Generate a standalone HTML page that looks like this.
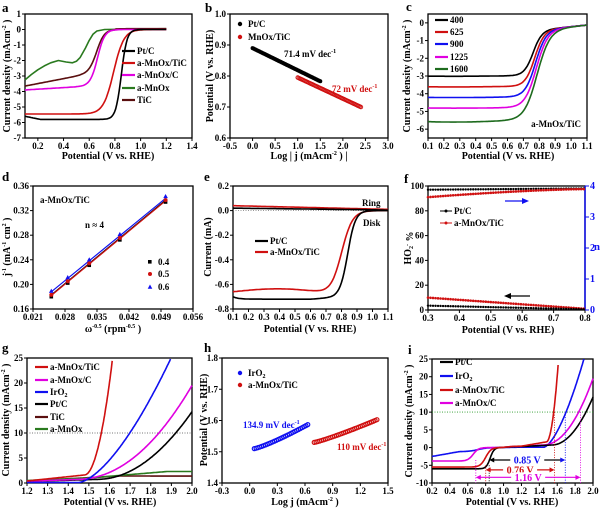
<!DOCTYPE html>
<html><head><meta charset="utf-8"><style>
body{margin:0;background:#fff}
svg{display:block}
text{font-family:"Liberation Serif",serif;font-weight:bold}
</style></head><body>
<svg id="s" width="600" height="510" viewBox="0 0 600 510" xmlns="http://www.w3.org/2000/svg"></svg>
<script>
let S='';
function P(box,xr,yr){return {b:box,X:v=>box[0]+(v-xr[0])/(xr[1]-xr[0])*(box[2]-box[0]),Y:v=>box[3]-(v-yr[0])/(yr[1]-yr[0])*(box[3]-box[1])};}
function T(x,y,t,o){o=o||{};S+=`<text x="${x}" y="${y}" font-size="${o.fs||9}" fill="${o.c||'#000'}" text-anchor="${o.a||'start'}"${o.tr?` transform="${o.tr}"`:''}>${t}</text>`;}
function axes(p,xt,yt,xf,yf,opt){opt=opt||{};const b=p.b;
 S+=`<rect x="${b[0]}" y="${b[1]}" width="${b[2]-b[0]}" height="${b[3]-b[1]}" fill="none" stroke="#000" stroke-width="1.3"/>`;
 xt.forEach(v=>{const x=p.X(v);S+=`<line x1="${x}" y1="${b[3]}" x2="${x}" y2="${b[3]+3}" stroke="#000"/>`;T(x,b[3]+11,xf(v),{a:'middle'});});
 yt.forEach(v=>{const y=p.Y(v);S+=`<line x1="${b[0]-3}" y1="${y}" x2="${b[0]}" y2="${y}" stroke="#000"/>`;T(b[0]-4,y+3,yf(v),{a:'end'});});
}
function line(pts,c,w,da){S+=`<polyline points="${pts.map(q=>q[0].toFixed(1)+','+q[1].toFixed(1)).join(' ')}" fill="none" stroke="${c}" stroke-width="${w||1.6}" stroke-linejoin="round"${da?` stroke-dasharray="${da}"`:''}/>`;}
function fn(p,f,a,b,n){n=n||120;const r=[];for(let i=0;i<=n;i++){const x=a+(b-a)*i/n;r.push([p.X(x),p.Y(f(x))]);}return r;}
function pl(p,arr){return arr.map(q=>[p.X(q[0]),p.Y(q[1])]);}
const L=(E,E0,w)=>1/(1+Math.exp((E-E0)/w));
function f1(v,d){return v.toFixed(d);}
function ylab(x,y,t){T(0,0,t,{a:'middle',fs:10,tr:`translate(${x},${y}) rotate(-90)`});}
const sup=t=>`<tspan dy="-4" font-size="6">${t}</tspan><tspan dy="4"> </tspan>`;
const sub=t=>`<tspan dy="2" font-size="6">${t}</tspan><tspan dy="-2"></tspan>`;
function leg(x,y,c,t){S+=`<line x1="${x}" y1="${y}" x2="${x+13}" y2="${y}" stroke="${c}" stroke-width="2.2"/>`;T(x+15,y+3,t);}
function rng(a,b,s){const r=[];for(let v=a;v<=b+1e-9;v+=s)r.push(+v.toFixed(4));return r;}

// ---- a
let p=P([25,14,192,138],[0.1,1.4],[-7,1]);
axes(p,rng(0.2,1.4,0.2),rng(-7,1,1),v=>f1(v,1),v=>f1(v,0));
line(pl(p,[[0.1,-3.25],[0.15,-2.9],[0.2,-2.6],[0.25,-2.35],[0.3,-2.15],[0.36,-2.0],[0.42,-2.1],[0.47,-2.15],[0.5,-2.05],[0.53,-1.8],[0.57,-1.2],[0.6,-0.7],[0.63,-0.3],[0.66,-0.1],[0.72,0],[1.2,0.05]]),'#2a7a1f');
line(fn(p,E=>(-3.65+1.6*(E-0.1))*L(E,0.66,0.03)+0.05*(E>0.8),0.1,1.2),'#5a0f0f');
line(fn(p,E=>(-3.9+0.5*(E-0.1))*L(E,0.665,0.028),0.1,1.2),'#e000e0');
line(fn(p,E=>-5.45*L(E,0.79,0.04),0.1,1.2),'#d01010');
line(fn(p,E=>(-5.6-0.2*Math.min(1,(E-0.1)/0.12))*L(E,0.85,0.022),0.1,1.2),'#000');
leg(122,51,'#000','Pt/C');leg(122,63,'#d01010','a-MnOx/TiC');leg(122,75,'#e000e0','a-MnOx/C');leg(122,88,'#2a7a1f','a-MnOx');leg(122,100,'#5a0f0f','TiC');
ylab(10,76,'Current density (mAcm'+sup('-2')+')');T(108,159,'Potential (V vs. RHE)',{a:'middle',fs:10});T(2,12,'a',{fs:13});

// ---- b
p=P([230,14,388,138],[-0.5,3.0],[0.6,1.0]);
axes(p,rng(-0.5,3.0,0.5),rng(0.6,1.0,0.1),v=>f1(v,1),v=>f1(v,1));
for(let x=0;x<=1.5;x+=0.025)S+=`<circle cx="${p.X(x)}" cy="${p.Y(0.89-0.0714*x)}" r="2" fill="#000"/>`;
for(let x=1.0;x<=2.4;x+=0.025)S+=`<circle cx="${p.X(x)}" cy="${p.Y(0.795-0.068*(x-1))}" r="1.8" fill="none" stroke="#d01010" stroke-width="0.9"/>`;
S+=`<circle cx="240" cy="24" r="2.2" fill="#000"/><circle cx="240" cy="37" r="2.2" fill="#d01010"/>`;
T(248,27,'Pt/C');T(248,40,'MnOx/TiC');
T(284,57,'71.4 mV dec'+sup('-1'));T(332,92,'72 mV dec'+sup('-1'),{c:'#d01010'});
ylab(213,76,'Potential (V vs. RHE)');T(309,159,'Log | j (mAcm'+sup('-2')+') |',{a:'middle',fs:10});T(205,12,'b',{fs:13});

// ---- c
p=P([428,14,587,138],[0.1,1.1],[-6.5,0.5]);
axes(p,rng(0.1,1.1,0.1),rng(-6,0,1),v=>f1(v,1),v=>f1(v,0));
const base=E=>-0.35+0.9*(E-0.85);
[[-3,0.76,0.028,'#000'],[-3.6,0.77,0.03,'#d01010'],[-4.2,0.775,0.033,'#1010f0'],[-4.8,0.78,0.036,'#e000e0'],[-5.55,0.785,0.04,'#1e6b1e']].forEach(([Lm,E0,w,c])=>{
 line(fn(p,E=>(Lm-base(E))*L(E,E0,w)+base(E)-0.05*Math.sin(E*6)*(Lm<-5?1:0.3)*L(E,E0,w),0.1,1.1),c);});
leg(435,20,'#000','400');leg(435,32,'#d01010','625');leg(435,44,'#1010f0','900');leg(435,57,'#e000e0','1225');leg(435,69,'#1e6b1e','1600');
T(581,127,'a-MnOx/TiC',{a:'end'});
ylab(410,76,'Current density (mAcm'+sup('-2')+')');T(508,159,'Potential (V vs. RHE)',{a:'middle',fs:10});T(406,11,'c',{fs:13});

// ---- d
p=P([33,186,193,309],[0.021,0.056],[0.16,0.36]);
axes(p,rng(0.021,0.056,0.007),rng(0.16,0.36,0.04),v=>f1(v,3),v=>f1(v,2));
const xs=[0.025,0.0286,0.0333,0.04,0.05];
line([[p.X(0.025),p.Y(0.183)],[p.X(0.05),p.Y(0.337)]],'#000',1.2);
line([[p.X(0.025),p.Y(0.182)],[p.X(0.05),p.Y(0.336)]],'#d01010',1.2);
line([[p.X(0.025),p.Y(0.188)],[p.X(0.05),p.Y(0.34)]],'#1010f0',1.2);
xs.forEach(x=>{const yb=0.183+(x-0.025)/0.025*0.154;
 S+=`<rect x="${p.X(x)-1.8}" y="${p.Y(yb-0.003)-1.8}" width="3.6" height="3.6" fill="#000"/>`;
 S+=`<circle cx="${p.X(x)}" cy="${p.Y(yb)}" r="2" fill="#d01010"/>`;
 const X=p.X(x),Y=p.Y(yb+0.006);S+=`<polygon points="${X},${Y-2.5} ${X-2.3},${Y+1.7} ${X+2.3},${Y+1.7}" fill="#1010f0"/>`;});
T(40,203,'a-MnOx/TiC');T(85,228,'n ≈ 4');
S+=`<rect x="148" y="260" width="3.6" height="3.6" fill="#000"/><circle cx="150" cy="274" r="2" fill="#d01010"/><polygon points="150,284.5 147.7,288.7 152.3,288.7" fill="#1010f0"/>`;
T(158,265,'0.4');T(158,277,'0.5');T(158,290,'0.6');
ylab(10,247,'j'+sup('-1')+'(mA'+sup('-1')+'cm'+sup('2')+')');T(113,332,'ω'+sup('-0.5')+'(rpm'+sup('-0.5')+')',{a:'middle',fs:10});T(2,181,'d',{fs:13});

// ---- e
p=P([233,186,388,309],[0.1,1.1],[-0.8,0.2]);
axes(p,rng(0.1,1.1,0.1),rng(-0.8,0.2,0.2),v=>f1(v,1),v=>f1(v,1));
line([[p.X(0.1),p.Y(0)],[p.X(1.1),p.Y(0)]],'#777',0.8,'1,1.5');
line(fn(p,E=>0.04-0.03*(E-0.1),0.1,1.1),'#d01010');
line(fn(p,E=>0.02-0.015*(E-0.1),0.1,1.1),'#000');
line(fn(p,E=>(-0.66+0.03*Math.sin((E-0.1)*5)-0.02*(E-0.1))*L(E,0.8,0.035),0.1,1.1),'#d01010');
line(fn(p,E=>(-0.72+0.02*Math.exp(-(E-0.1)*30)+0.03*Math.max(0,E-0.6)*3)*L(E,0.84,0.025),0.1,1.1),'#000');
leg(255,241,'#000','Pt/C');leg(255,252,'#d01010','a-MnOx/TiC');
T(362,206,'Ring');T(363,226,'Disk');
ylab(211,247,'Current (mA)');T(310,332,'Potential (V vs. RHE)',{a:'middle',fs:10});T(204,181,'e',{fs:13});

// ---- f
p=P([428,186,585,310],[0.3,0.8],[0,100]);
axes(p,rng(0.3,0.8,0.1),rng(0,100,20),v=>f1(v,1),v=>f1(v,0));
S+=`<line x1="585" y1="186" x2="585" y2="310" stroke="#1010f0" stroke-width="1.5"/>`;
[0,1,2,3,4].forEach(n=>{const y=p.Y(n*25);S+=`<line x1="585" y1="${y}" x2="589" y2="${y}" stroke="#1010f0"/>`;T(590,y+3,''+n,{c:'#1010f0',fs:10});});
for(let x=0.3;x<=0.8;x+=0.008){
 S+=`<circle cx="${p.X(x)}" cy="${p.Y(97+2*(x-0.3))}" r="1.2" fill="#000"/>`;
 S+=`<circle cx="${p.X(x)}" cy="${p.Y(91+6.5*(1-Math.pow(1-(x-0.3)/0.5,1.5)))}" r="1.3" fill="#d01010"/>`;
 S+=`<circle cx="${p.X(x)}" cy="${p.Y(10-9*(x-0.3)/0.5)}" r="1.3" fill="#d01010"/>`;
 S+=`<circle cx="${p.X(x)}" cy="${p.Y(3.5-3*(x-0.3)/0.5)}" r="1.2" fill="#000"/>`;}
S+=`<line x1="505" y1="201" x2="524" y2="201" stroke="#1010f0" stroke-width="1.2"/><polygon points="529,201 522,198 522,204" fill="#1010f0"/>`;
S+=`<line x1="510" y1="296" x2="530" y2="296" stroke="#000" stroke-width="1.2"/><polygon points="504,296 511,293 511,299" fill="#000"/>`;
S+=`<line x1="440" y1="211" x2="452" y2="211" stroke="#000"/><circle cx="446" cy="211" r="1.5"/><line x1="440" y1="223" x2="452" y2="223" stroke="#d01010"/><circle cx="446" cy="223" r="1.5" fill="#d01010"/>`;
T(454,214,'Pt/C');T(454,226,'a-MnOx/TiC');
ylab(411,248,'HO'+sub('2')+sup('-')+'%');T(600,250,'n',{c:'#1010f0',fs:11,a:'end'});
T(508,333,'Potential (V vs. RHE)',{a:'middle',fs:10});T(404,183,'f',{fs:13});

// ---- g
p=P([27,358,192,483],[1.2,2.0],[0,25]);
axes(p,rng(1.2,2.0,0.1),rng(0,25,5),v=>f1(v,1),v=>f1(v,0));
line([[p.X(1.2),p.Y(10)],[p.X(2.0),p.Y(10)]],'#777',0.9,'1,1.5');
const oer={
 tic:E=>0.4+1.0*Math.min(1,(E-1.2)/0.45)-0.1*Math.max(0,E-1.7),
 mn:E=>0.5+0.5*Math.min(1,(E-1.2)/0.3)+1.3*Math.min(1,Math.max(0,E-1.5)/0.38),
 pt:E=>0.3+0.5*(E-1.2)/0.4+64*Math.pow(Math.max(0,E-1.55),2),
 c:E=>0.35+1.5*(E-1.2)+63*Math.pow(Math.max(0,E-1.45),2.1),
 ir:E=>0.1+87*Math.pow(Math.max(0,E-1.45),1.56),
 ti:E=>0.4+1.3*(E-1.2)/0.3+1250*Math.pow(Math.max(0,E-1.48),2)};
function clip(p,f,a,b,c){const pts=fn(p,f,a,b,300).filter(q=>q[1]>=p.b[1]);line(pts,c);}
clip(p,oer.tic,1.2,2.0,'#5a0f0f');clip(p,oer.mn,1.2,2.0,'#2a7a1f');clip(p,oer.pt,1.2,2.0,'#000');
clip(p,oer.c,1.2,2.0,'#e000e0');clip(p,oer.ir,1.2,2.0,'#1010f0');clip(p,oer.ti,1.2,2.0,'#d01010');
leg(35,367,'#d01010','a-MnOx/TiC');leg(35,380,'#e000e0','a-MnOx/C');leg(35,392,'#1010f0','IrO'+sub('2'));leg(35,404,'#000','Pt/C');leg(35,417,'#5a0f0f','TiC');leg(35,429,'#2a7a1f','a-MnOx');
ylab(9,420,'Current density (mAcm'+sup('-2')+')');T(110,505,'Potential (V vs. RHE)',{a:'middle',fs:10});T(2,352,'g',{fs:13});

// ---- h
p=P([222,358,388,483],[-0.3,1.5],[1.4,1.8]);
axes(p,rng(-0.3,1.5,0.3),rng(1.4,1.8,0.1),v=>f1(v,1),v=>f1(v,1));
for(let x=0.05;x<=0.65;x+=0.02)S+=`<circle cx="${p.X(x)}" cy="${p.Y(1.51+0.08*Math.pow((x-0.05)/0.6,1.2))}" r="2" fill="none" stroke="#1010f0" stroke-width="1.2"/>`;
for(let x=0.7;x<=1.4;x+=0.02)S+=`<circle cx="${p.X(x)}" cy="${p.Y(1.53+0.075*Math.pow((x-0.7)/0.7,1.15))}" r="2" fill="none" stroke="#d01010" stroke-width="1.2"/>`;
S+=`<circle cx="240" cy="373" r="2.2" fill="#1010f0"/><circle cx="240" cy="385" r="2.2" fill="#d01010"/>`;
T(248,376,'IrO'+sub('2'));T(248,388,'a-MnOx/TiC');
T(243,428,'134.9 mV dec'+sup('-1'),{c:'#1010f0'});T(337,450,'110 mV dec'+sup('-1'),{c:'#d01010'});
ylab(207,420,'Potential (V vs. RHE)');T(305,505,'Log j (mAcm'+sup('-2')+')',{a:'middle',fs:10});T(204,352,'h',{fs:13});

// ---- i
p=P([432,359,593,483],[0.2,2.0],[-10,25]);
axes(p,rng(0.2,2.0,0.2),rng(-10,25,5),v=>f1(v,1),v=>f1(v,0));
line([[p.X(0.2),p.Y(10)],[p.X(2.0),p.Y(10)]],'#2a9a2a',0.9,'1,1.5');
const comb=(orr,o)=>E=>E<1.2?orr(E)+o(1.2)*(1-L(E,1.05,0.04)):o(E);
clip(p,comb(E=>(-2.5+2.2*Math.min(1,(E-0.2)/0.3)*0.55+0.4*(E-0.2))*L(E,0.72,0.05),oer.ir),0.2,2.0,'#1010f0');
clip(p,comb(E=>-3.8*L(E,0.66,0.03),oer.c),0.2,2.0,'#e000e0');
clip(p,comb(E=>-6*L(E,0.85,0.022),oer.pt),0.2,2.0,'#000');
clip(p,comb(E=>-5.5*L(E,0.8,0.03),oer.ti),0.2,2.0,'#d01010');
function vd(E,y,c){line([[p.X(E),p.Y(y)],[p.X(E),p.Y(-10)]],c,0.9,'1,1.5');}
vd(0.69,-3.5,'#e000e0');vd(0.84,-5,'#000');vd(0.8,-5,'#d01010');vd(1.57,10,'#d01010');vd(1.69,10,'#1010f0');vd(1.86,10,'#e000e0');
function arr(E1,E2,y,c1,c2,t,tc){const y0=p.Y(y),x1=p.X(E1),x2=p.X(E2);
 S+=`<line x1="${x1+4}" y1="${y0}" x2="${x2-4}" y2="${y0}" stroke="${c1}" stroke-width="1.2"/><polygon points="${x1},${y0} ${x1+5},${y0-2.5} ${x1+5},${y0+2.5}" fill="${c1}"/><polygon points="${x2},${y0} ${x2-5},${y0-2.5} ${x2-5},${y0+2.5}" fill="${c2}"/>`;
 const xm=(x1+x2)/2;S+=`<rect x="${xm-17}" y="${y0-5}" width="34" height="10" fill="#fff"/>`;T(xm,y0+3.5,t,{a:'middle',c:tc,fs:10});}
arr(0.84,1.69,-3.5,'#000','#1010f0','0.85 V','#1010f0');
arr(0.8,1.57,-6.3,'#d01010','#d01010','0.76 V','#d01010');
arr(0.69,1.86,-8.4,'#e000e0','#e000e0','1.16 V','#e000e0');
leg(440,362,'#000','Pt/C');leg(440,376,'#1010f0',' IrO'+sub('2'));leg(440,390,'#d01010','a-MnOx/TiC');leg(440,403,'#e000e0','a-MnOx/C');
ylab(412,421,'Current density (mAcm'+sup('-2')+')');T(512,505,'Potential (V vs. RHE)',{a:'middle',fs:10});T(408,354,'i',{fs:13});

document.getElementById('s').innerHTML=S;
</script>
</body></html>
